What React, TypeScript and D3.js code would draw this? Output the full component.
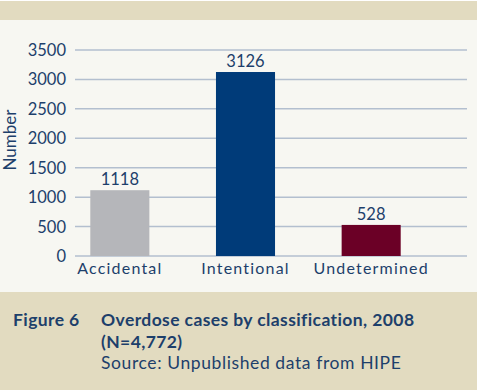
import React from "react";
import * as d3 from "d3";

const categories = ["Accidental", "Intentional", "Undetermined"];
const values = [1118, 3126, 528];
const barColors = ["#b5b6ba", "#003b79", "#6b0026"];
const yTicks = [0, 500, 1000, 1500, 2000, 2500, 3000, 3500];

const W = 480;
const H = 390;
const textColor = "#1d3f6b";

const App: React.FC = () => {
  const y = d3.scaleLinear().domain([0, 3500]).range([256, 50]);
  const x = d3
    .scaleBand<string>()
    .domain(categories)
    .range([57, 434])
    .paddingInner(0.53)
    .paddingOuter(0.265);

  return (
    <svg
      width={W}
      height={H}
      style={{ position: "absolute", left: 0, top: 0 }}
      fontFamily="Lato, 'Noto Sans', sans-serif"
    >
      <rect x={0} y={0} width={W} height={H} fill="#ffffff" />
      <rect x={0} y={1} width={477} height={H - 1} fill="#f7f7f2" />
      <rect x={0} y={1} width={477} height={19} fill="#e2dbc0" />
      <rect x={0} y={292} width={477} height={H - 292} fill="#e2dbc0" />

      {/* gridlines and y ticks */}
      {yTicks.map((t) => (
        <g key={t}>
          <line x1={75} x2={467} y1={y(t)} y2={y(t)} stroke="#b3bfcf" strokeWidth={1.5} />
          <text
            x={66}
            y={y(t)}
            dy="0.36em"
            textAnchor="end"
            fontSize={16.5}
            fill={textColor}
          >
            {t}
          </text>
        </g>
      ))}

      <text
        transform="translate(16,140) rotate(-90)"
        textAnchor="middle"
        fontSize={17}
        fill={textColor}
      >
        Number
      </text>

      {/* bars */}
      {categories.map((c, i) => (
        <g key={c}>
          <rect
            x={x(c)}
            y={y(values[i])}
            width={x.bandwidth()}
            height={y(0) - y(values[i])}
            fill={barColors[i]}
          />
          <text
            x={x(c)! + x.bandwidth() / 2}
            y={y(values[i]) - 5}
            textAnchor="middle"
            fontSize={16.5}
            fill={textColor}
          >
            {values[i]}
          </text>
          <text
            x={x(c)! + x.bandwidth() / 2}
            y={274}
            textAnchor="middle"
            fontSize={16}
            letterSpacing={1.2}
            fill={textColor}
          >
            {c}
          </text>
        </g>
      ))}

      {/* caption */}
      <g fill={textColor} fontSize={17.5}>
        <text x={13} y={326} fontWeight="bold" letterSpacing={0.4}>Figure 6</text>
        <text x={101} y={326} fontWeight="bold" letterSpacing={0.4}>
          Overdose cases by classification, 2008
        </text>
        <text x={101} y={347.5} fontWeight="bold" letterSpacing={0.4}>(N=4,772)</text>
        <text x={101} y={369} letterSpacing={0.6}>Source: Unpublished data from HIPE</text>
      </g>
    </svg>
  );
};

export default App;
